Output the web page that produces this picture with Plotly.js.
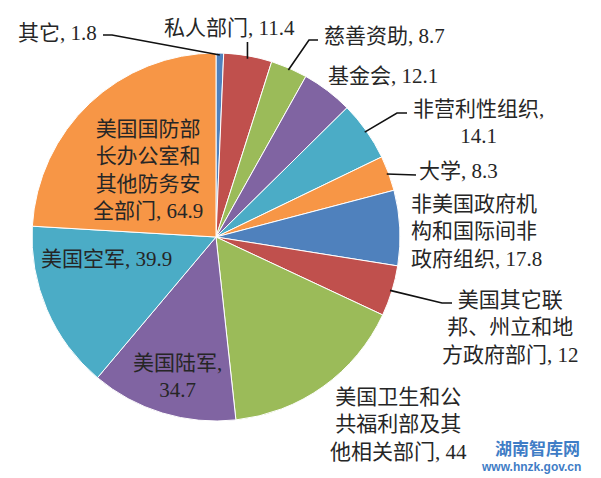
<!DOCTYPE html>
<html><head><meta charset="utf-8">
<script src="https://cdn.plot.ly/plotly-3.0.1.min.js"></script>
<style>html,body{margin:0;padding:0;background:#fff}</style>
</head><body><div id="chart" style="width:601px;height:478px"></div>
<script>
// ---- data ----
const categories = ['其它','私人部门','慈善资助','基金会','非营利性组织','大学',
  '非美国政府机构和国际间非政府组织','美国其它联邦、州立和地方政府部门',
  '美国卫生和公共福利部及其他相关部门','美国陆军','美国空军','美国国防部长办公室和其他防务安全部门'];
const values = [1.8, 11.4, 8.7, 12.1, 14.1, 8.3, 17.8, 12, 44, 34.7, 39.9, 64.9];
const wrappedNames = ['其它','私人部门','慈善资助','基金会','非营利性组织','大学',
  '非美国政府机<br>构和国际间非<br>政府组织','美国其它联<br>邦、州立和地<br>方政府部门',
  '美国卫生和公<br>共福利部及其<br>他相关部门','美国陆军','美国空军','美国国防部<br>长办公室和<br>其他防务安<br>全部门'];
const valueSep = [', ',', ',', ',', ',',<br>',', ',', ',', ',', ',',<br>',', ',', '];

// ---- style / layout ----
const colors = ['#4F81BD','#C0504D','#9BBB59','#8064A2','#4BACC6','#F79646',
                '#4F81BD','#C0504D','#9BBB59','#8064A2','#4BACC6','#F79646'];
const W = 601, H = 478;
const cx = 216, cy = 237, R = 184;
const px = x => x / W, py = y => 1 - y / H;

// label placement: [x, y, xanchor, align]
const labelPos = [
  [99, 33, 'right', 'left'],
  [162, 28, 'left', 'left'],
  [322, 36, 'left', 'left'],
  [326, 76, 'left', 'left'],
  [478, 123, 'center', 'center'],
  [417, 171, 'left', 'left'],
  [409, 232, 'left', 'left'],
  [510, 327, 'center', 'center'],
  [398, 424, 'center', 'center'],
  [177, 376, 'center', 'center'],
  [39, 259, 'left', 'left'],
  [148, 170, 'center', 'center']
];

const total = values.reduce((a, b) => a + b, 0);
const cum = []; let acc = 0;
values.forEach(v => { cum.push(acc); acc += v; });
function edge(i, rr) {
  const a = (cum[i] + values[i] / 2) / total * 2 * Math.PI;
  return [cx + rr * Math.sin(a), cy - rr * Math.cos(a)];
}

const font = {family: 'Liberation Serif, "Noto Sans CJK SC", serif', size: 21, color: '#262626'};
const annotations = values.map((v, i) => ({
  xref: 'paper', yref: 'paper', showarrow: false,
  x: px(labelPos[i][0]), y: py(labelPos[i][1]),
  xanchor: labelPos[i][2], yanchor: 'middle', align: labelPos[i][3],
  text: wrappedNames[i] + valueSep[i] + v, font: font
}));
annotations.push({xref:'paper',yref:'paper',showarrow:false,x:px(537),y:py(447),xanchor:'center',yanchor:'middle',
  borderpad:0,text:'<b>湖南智库网</b>',font:{family:'"Noto Sans CJK SC", sans-serif',size:17,color:'#3f7dc6'}});
annotations.push({xref:'paper',yref:'paper',showarrow:false,x:px(531),y:py(467),xanchor:'center',yanchor:'middle',
  borderpad:0,text:'<b>www.hnzk.gov.cn</b>',font:{family:'"Liberation Sans", Arial, sans-serif',size:12,color:'#3f7dc6'}});

// leader lines: label-side points then pie edge point
function path(pts) {
  return pts.map((p, k) => (k ? 'L' : 'M') + px(p[0]) + ',' + py(p[1])).join(' ');
}
const lineStyle = {color: '#111', width: 1.6};
const e0 = edge(0, R - 2), e1 = edge(1, R - 3), e2 = edge(2, R - 2), e4 = edge(4, R - 2),
      e5 = edge(5, R - 2), e7 = edge(7, R - 2);
const shapes = [
  [[103, 35], [112, 35], e0],
  [[e1[0], 42], e1],
  [[318, 40], [309, 40], e2],
  [[407, 113], [397, 113], e4],
  [[416, e5[1] + 1], e5],
  [[452, 303], [442, 303], e7]
].map(pts => ({type: 'path', xref: 'paper', yref: 'paper', path: path(pts), line: lineStyle}));

const trace = {
  type: 'pie', labels: categories, values: values, sort: false,
  direction: 'clockwise', rotation: 0, textinfo: 'none', hoverinfo: 'skip',
  showlegend: false,
  marker: {colors: colors, line: {color: '#ffffff', width: 1}},
  domain: {x: [(cx - R) / W, (cx + R) / W], y: [1 - (cy + R) / H, 1 - (cy - R) / H]}
};

Plotly.newPlot('chart', [trace], {
  width: W, height: H, autosize: false,
  margin: {l: 0, r: 0, t: 0, b: 0},
  paper_bgcolor: '#fff', plot_bgcolor: '#fff',
  annotations: annotations, shapes: shapes
}, {staticPlot: true});
</script></body></html>
